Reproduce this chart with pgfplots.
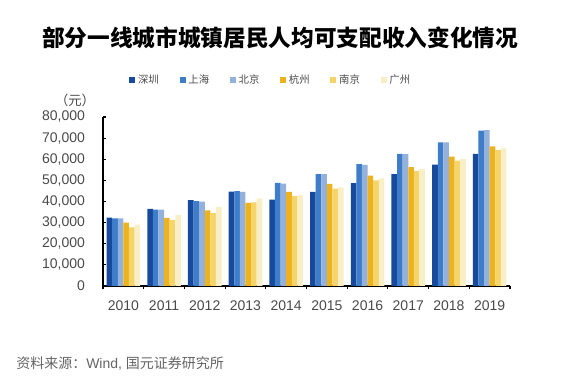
\documentclass[border=0pt]{standalone}
\usepackage{pgfplots}
\pgfplotsset{compat=1.18}
\usepackage{fontspec}
\setmainfont{Liberation Sans}
\newfontfamily\cjk{Noto Sans CJK SC}
\definecolor{cSZ}{HTML}{174A9C}
\definecolor{cSH}{HTML}{3D7DCA}
\definecolor{cBJ}{HTML}{93B1DA}
\definecolor{cHZ}{HTML}{EDB31E}
\definecolor{cNJ}{HTML}{F5D46A}
\definecolor{cGZ}{HTML}{F8EFC6}
\definecolor{txt}{HTML}{4A4A4A}
\begin{document}
\begin{tikzpicture}
\useasboundingbox (0,0) rectangle (425.25pt,282.75pt);
\begin{axis}[
  at={(77.25pt,68.25pt)}, anchor=south west,
  scale only axis, width=305.25pt, height=126.75pt,
  ybar=0pt, bar width=4.2pt,
  xmin=-0.5, xmax=9.5, ymin=0, ymax=80000,
  xtick={0,...,9},
  xticklabels={2010,2011,2012,2013,2014,2015,2016,2017,2018,2019},
  minor xtick={-0.5,0.5,...,9.5},
  major x tick style={draw=none},
  minor tick length=2.5pt,
  ytick={0,10000,...,80000},
  major tick length=2.5pt,
  tick style={black, line width=0.8pt},
  scaled y ticks=false,
  /pgf/number format/assume math mode=true,
  /pgf/number format/1000 sep={,},
  tick label style={font=\fontsize{10.5}{12}\selectfont, text=txt},
  yticklabel style={xshift=-10pt},
  xticklabel style={yshift=-5pt},
  axis x line*=bottom, axis y line*=left,
  axis line style={black, line width=1pt, -},
  legend columns=6,
  legend style={at={(0.413,1.219)}, anchor=center, draw=none, fill=none,
    font=\cjk\fontsize{7.8}{9}\selectfont\color{txt},
    /tikz/every even column/.append style={column sep=13.5pt},
    inner sep=0pt},
  legend image code/.code={\fill[#1] (0pt,-2.3pt) rectangle (4.6pt,2.3pt);},
  clip=false,
]
\addplot[fill=cSZ, draw=none] coordinates {(0,32400)(1,36500)(2,40700)(3,44700)(4,40900)(5,44600)(6,48700)(7,52900)(8,57500)(9,62500)};
\addplot[fill=cSH, draw=none] coordinates {(0,32000)(1,36200)(2,40200)(3,44900)(4,48800)(5,53000)(6,57700)(7,62600)(8,68000)(9,73600)};
\addplot[fill=cBJ, draw=none] coordinates {(0,32000)(1,36200)(2,39900)(3,44600)(4,48500)(5,52900)(6,57300)(7,62400)(8,68000)(9,73800)};
\addplot[fill=cHZ, draw=none] coordinates {(0,30000)(1,32300)(2,35800)(3,39300)(4,44600)(5,48300)(6,52200)(7,56300)(8,61200)(9,66100)};
\addplot[fill=cNJ, draw=none] coordinates {(0,27800)(1,31200)(2,34500)(3,39600)(4,42600)(5,46100)(6,50000)(7,54500)(8,59300)(9,64400)};
\addplot[fill=cGZ, draw=none] coordinates {(0,29000)(1,33600)(2,37500)(3,41500)(4,43000)(5,46700)(6,50900)(7,55400)(8,60000)(9,65100)};
\legend{深圳,上海,北京,杭州,南京,广州}
\end{axis}
\node[font=\cjk\bfseries\fontsize{17}{19}\selectfont] at (210pt,254.25pt) {部分一线城市城镇居民人均可支配收入变化情况};
\node[font=\cjk\fontsize{10}{12}\selectfont, text=txt] at (56.25pt,207.75pt) {（元）};
\node[anchor=west, font=\fontsize{10.5}{12}\selectfont, text=txt!85, inner sep=0pt] at (12pt,10.5pt) {{\cjk 资料来源：}Wind, {\cjk 国元证券研究所}};
\end{tikzpicture}
\end{document}
